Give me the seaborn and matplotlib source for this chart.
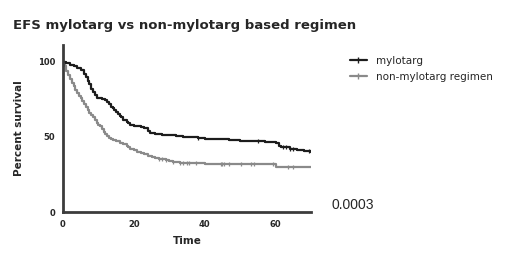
import numpy as np
import seaborn as sns
import matplotlib
matplotlib.use("Agg")
import matplotlib.pyplot as plt
from matplotlib.lines import Line2D

# Kaplan-Meier step values
myl_time = [0, 1, 2, 3, 4, 5, 6, 6.5, 7, 7.5, 8, 8.5, 9, 9.5, 10, 11, 12, 12.5, 13, 13.5, 14,
            14.5, 15, 15.5, 16, 16.5, 17, 18, 18.5, 19, 20, 22, 23, 24, 24.5, 26, 28, 30, 32,
            34, 36, 38, 40, 44, 47, 50, 53, 55, 57, 60, 61, 61.5, 62, 64, 66, 68, 70]
myl_surv = [100, 99, 98, 97, 95.5, 94.7, 92, 90, 87, 85, 82, 80, 78, 76, 75.5, 75, 74.7, 73,
            71.5, 70, 69, 68, 66.5, 65, 64, 63, 61.5, 60, 59, 58, 57, 56.5, 56, 54, 52.5, 52,
            51.5, 51, 50.7, 50, 49.8, 49, 48.8, 48.4, 48, 47.5, 47, 46.9, 46.5, 45.8, 44, 43,
            42.9, 41.8, 41.3, 40.5, 40.2]
myl_cens = [38, 55, 62, 63, 64, 65, 69.5]

non_time = [0, 0.5, 1, 1.5, 2, 2.5, 3, 3.5, 4, 4.5, 5, 5.5, 6, 6.5, 7, 7.5, 8, 8.5, 9, 9.5,
            10, 10.5, 11, 11.5, 12, 12.5, 13, 13.5, 14, 15, 16, 17, 18, 18.5, 19, 20, 21, 22,
            23, 24, 25, 26, 27, 28, 29, 30, 31, 32, 33, 40, 60, 70]
non_surv = [100, 97, 94, 91, 88.5, 86, 83.5, 81, 79, 77, 75.5, 74, 72, 70, 68, 66, 64.5, 63,
            61, 59.5, 58, 57, 55, 53.5, 52, 50.5, 49.5, 48.5, 48, 47, 46, 45, 44, 43, 42, 41,
            40, 39, 38.3, 37.5, 36.8, 36, 35.5, 35, 34.5, 34, 33.5, 33, 32.5, 31.8, 29.6, 29.6]
non_cens = [27, 28, 29, 31, 33, 34, 35, 35.5, 37.5, 44.5, 45, 45.5, 46.8, 50.2, 53, 54, 59.2,
            63.5, 65]

labels = ["mylotarg", "non-mylotarg regimen"]
p_value = "0.0003"


def step_at(times, surv, t):
    idx = np.searchsorted(times, t, side="right") - 1
    return np.array(surv)[idx]


sns.set_style("white")
plt.rcParams['font.family'] = ['DejaVu Sans']

fig = plt.figure(figsize=(5.2, 2.65), dpi=100)
ax = fig.add_axes([0.121, 0.2, 0.477, 0.63])

black = "#1c1c1c"
grey = "#8a8a8a"
spine = "#3c3c3c"

sns.lineplot(x=non_time, y=non_surv, drawstyle="steps-post", estimator=None, sort=False,
             color=grey, linewidth=1.6, ax=ax)
sns.lineplot(x=myl_time, y=myl_surv, drawstyle="steps-post", estimator=None, sort=False,
             color=black, linewidth=1.6, ax=ax)

ax.scatter(non_cens, step_at(non_time, non_surv, non_cens), marker="|", s=12,
           linewidths=0.9, color=grey, zorder=3)
ax.scatter(myl_cens, step_at(myl_time, myl_surv, myl_cens), marker="|", s=12,
           linewidths=0.9, color=black, zorder=3)

ax.set_xlim(0, 70)
ax.set_ylim(0, 111)
ax.set_xticks([0, 20, 40, 60])
ax.set_yticks([0, 50, 100])
ax.tick_params(axis="both", direction="out", length=3, width=1.5, color=spine,
               labelsize=6, pad=2.5)
for lab in ax.get_xticklabels() + ax.get_yticklabels():
    lab.set_fontweight("bold")
for side in ["top", "right"]:
    ax.spines[side].set_visible(False)
for side in ["left", "bottom"]:
    ax.spines[side].set_linewidth(2)
    ax.spines[side].set_color(spine)

ax.set_xlabel("Time", fontsize=7.5, fontweight="bold", labelpad=5)
ax.set_ylabel("Percent survival", fontsize=7.5, fontweight="bold", labelpad=10)

fig.text(0.025, 0.905, "EFS mylotarg vs non-mylotarg based regimen", fontsize=9.5,
         fontweight="bold", ha="left", va="center")

handles = [Line2D([], [], color=black, linewidth=1.6, marker="|", markersize=4),
           Line2D([], [], color=grey, linewidth=1.6, marker="|", markersize=4)]
fig.legend(handles, labels, loc="upper left", bbox_to_anchor=(0.665, 0.805),
           frameon=False, fontsize=7.5, handlelength=1.6, handletextpad=0.9,
           labelspacing=0.55, borderaxespad=0, numpoints=1)

fig.text(0.638, 0.228, p_value, family="Liberation Sans", fontsize=10, ha="left",
         va="center")

fig.savefig("out.png", dpi=100)
